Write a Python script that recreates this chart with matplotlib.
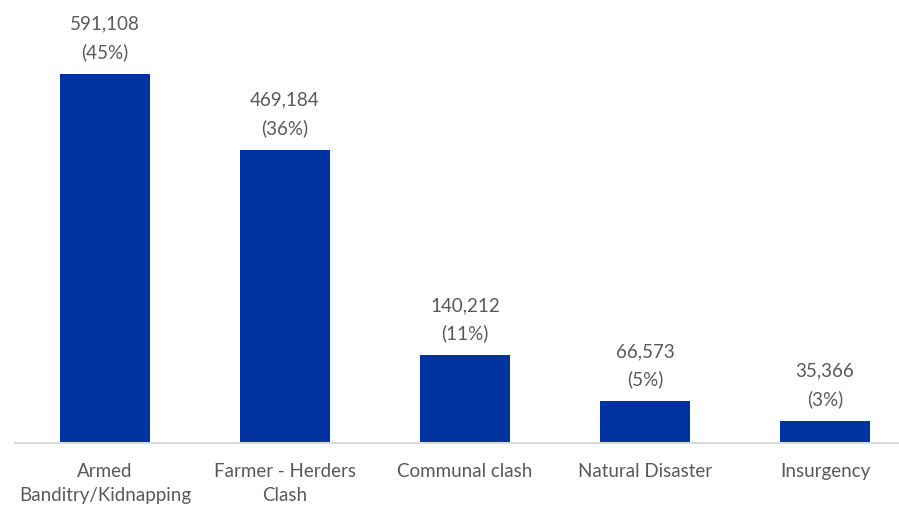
import matplotlib.pyplot as plt

categories = ["Armed\nBanditry/Kidnapping", "Farmer - Herders\nClash", "Communal clash",
              "Natural Disaster", "Insurgency"]
values = [591108, 469184, 140212, 66573, 35366]
shares = [45, 36, 11, 5, 3]

plt.rcParams['font.family'] = ['Lato', 'DejaVu Sans']
text_col = '#595959'

fig = plt.figure(figsize=(8.99, 5.06), dpi=100)
ax = fig.add_axes([15/899, 62/506, 900/899, 444/506])

x = range(len(categories))
ax.bar(x, values, width=0.5, color='#0033A0', zorder=2)
ax.set_xlim(-0.5, 4.5)
ax.set_ylim(0, 711000)

for i, (v, s) in enumerate(zip(values, shares)):
    ax.annotate(f"{v:,}\n({s}%)", (i, v), xytext=(0, 10), textcoords='offset points',
                ha='center', va='bottom', fontsize=13.5, color=text_col, linespacing=1.72)

ax.set_xticks(list(x))
ax.set_xticklabels(categories, fontsize=13.5, color=text_col, linespacing=1.45)
ax.tick_params(axis='x', length=0, pad=14)
ax.set_yticks([])
for side in ['top', 'right', 'left']:
    ax.spines[side].set_visible(False)
ax.spines['bottom'].set_color('#d9d9d9')
ax.spines['bottom'].set_linewidth(1.5)

fig.savefig('out.png', dpi=100)
